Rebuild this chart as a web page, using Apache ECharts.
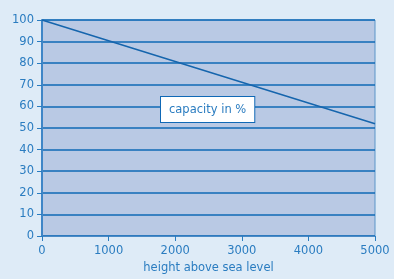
<!DOCTYPE html>
<html>
<head>
<meta charset="utf-8">
<script src="https://cdn.jsdelivr.net/npm/echarts@6/dist/echarts.min.js"></script>
<style>
  html, body { margin: 0; padding: 0; background: #deebf7; }
  #chart { width: 394px; height: 279px; }
</style>
</head>
<body>
<div id="chart"></div>
<script>
// Höhe über Meer / Leistung
var heights = [0, 1000, 2000, 3000, 4000, 5000];
var capacity = [100, 90.4, 80.8, 71.2, 61.6, 52];
var lineData = heights.map(function (h, i) { return [h, capacity[i]]; });

var blue = '#0f68b6';
var labelBlue = '#2a7cc0';

var myChart = echarts.init(document.getElementById('chart'));
var option = {
  backgroundColor: '#deebf7',
  animation: false,
  grid: {
    left: 42, right: 19, top: 20, bottom: 39,
    show: true,
    backgroundColor: '#b9c9e4',
    borderColor: '#5b95c9',
    borderWidth: 1
  },
  xAxis: {
    type: 'value',
    min: 0, max: 5000, interval: 1000,
    name: 'height above sea level',
    nameLocation: 'middle',
    nameGap: 26,
    nameTextStyle: { color: labelBlue, fontSize: 11.5, fontFamily: 'DejaVu Sans' },
    axisLine: { show: true, lineStyle: { color: '#4a8ac6', width: 1 } },
    axisTick: { show: true, length: 5, lineStyle: { color: labelBlue } },
    axisLabel: {
      color: labelBlue, fontSize: 11.5, fontFamily: 'DejaVu Sans', margin: 9,
      formatter: function (v) { return String(v); }
    },
    splitLine: { show: false }
  },
  yAxis: {
    type: 'value',
    min: 0, max: 100, interval: 10,
    axisLine: { show: true, lineStyle: { color: '#3f86c7', width: 2 } },
    axisTick: { show: true, length: 5, lineStyle: { color: labelBlue } },
    axisLabel: { color: labelBlue, fontSize: 11.5, fontFamily: 'DejaVu Sans', margin: 8 },
    splitLine: { show: true, lineStyle: { color: blue, width: 1.5 } }
  },
  graphic: [{
    type: 'text',
    left: 160, top: 96,
    z: 100,
    style: {
      text: 'capacity in %',
      fill: labelBlue,
      fontSize: 11.5,
      fontFamily: 'DejaVu Sans',
      backgroundColor: '#ffffff',
      borderColor: blue,
      borderWidth: 1,
      padding: [7, 8, 6, 8]
    }
  }],
  series: [{
    type: 'line',
    data: lineData,
    symbol: 'none',
    lineStyle: { color: '#1565ad', width: 1.5 }
  }]
};
myChart.setOption(option);
</script>
</body>
</html>
